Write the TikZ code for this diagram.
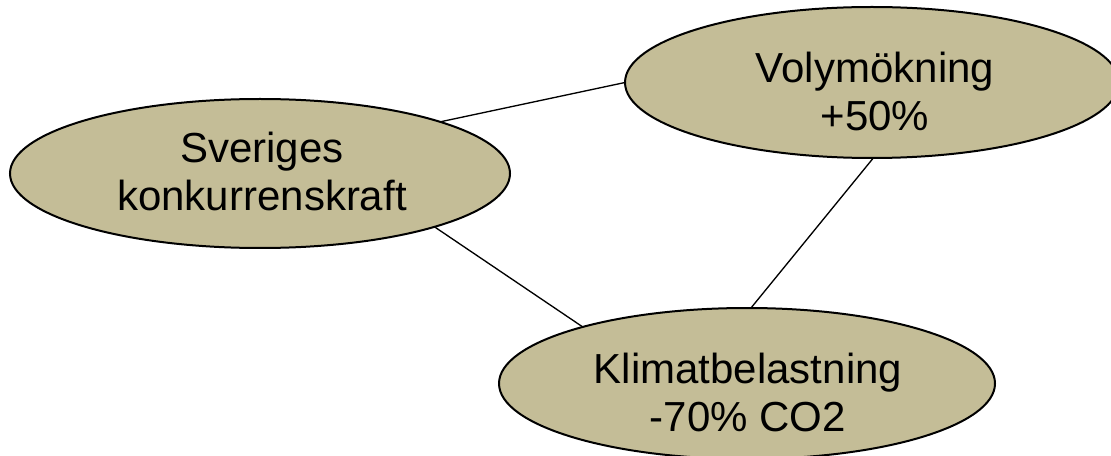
\documentclass[tikz,border=0pt]{standalone}
\usepackage{fontspec}
\setmainfont{Liberation Sans}
\usetikzlibrary{shapes.geometric}

\tikzset{every picture/.style={line width=0.75pt}}
\tikzset{
  oval/.style={ellipse, draw, line width=1.5pt, fill={rgb, 255:red, 196; green, 189; blue, 151 }, inner sep=0pt, outer sep=0pt},
  ovaltext/.style={align=center, inner sep=0pt, font=\fontsize{31.5}{36}\selectfont},
  link/.style={line width=1pt}
}

\begin{document}
\begin{tikzpicture}[x=0.75pt,y=0.75pt,yscale=-1,xscale=1]
%set diagram to 1111 x 456
\useasboundingbox (0,0) rectangle (1111,456);

%Shape: Ellipse [id:dp1] 
\node [oval, minimum width=375pt, minimum height=111.75pt] (sverige) at (260,173.5) {};
%Shape: Ellipse [id:dp2] 
\node [oval, minimum width=370.5pt, minimum height=113.25pt] (volym) at (872,82.5) {};
%Shape: Ellipse [id:dp3] 
\node [oval, minimum width=372pt, minimum height=113.25pt] (klimat) at (747,383.5) {};

%Straight Lines [id:da1] 
\draw [link] (sverige.16.8) -- (volym.180.6) ;
%Straight Lines [id:da2] 
\draw [link] (sverige.-17.1) -- (klimat.161.9) ;
%Straight Lines [id:da3] 
\draw [link] (volym.-89.8) -- (klimat.87.8) ;

% Text Node
\node [ovaltext] (sverigetext) at (262,171.5) {Sveriges\\konkurrenskraft};
% Text Node
\node [ovaltext] (volymtext) at (875,91) {Volymökning\\+50\%};
% Text Node
\node [ovaltext] (klimattext) at (748,392) {Klimatbelastning\\-70\% CO2};

\end{tikzpicture}
\end{document}
